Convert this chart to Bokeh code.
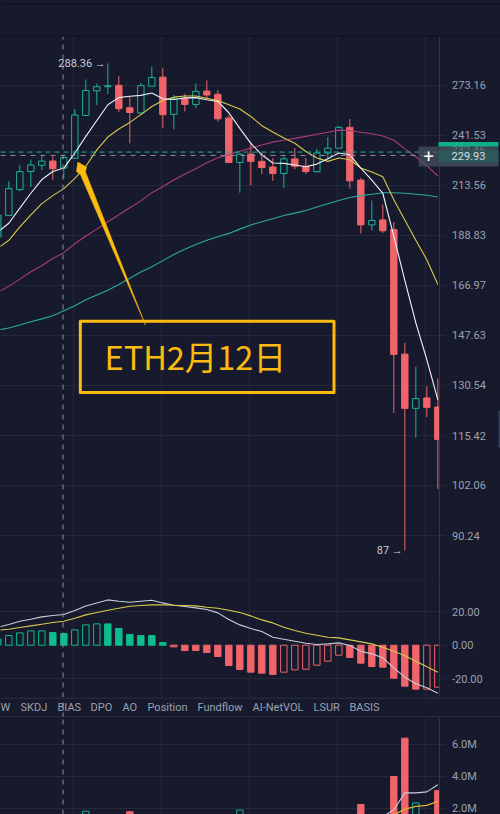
from bokeh.embed import file_html
from bokeh.resources import INLINE
from bokeh.plotting import figure
from bokeh.layouts import column
from bokeh.core.properties import value
from bokeh.models import (FixedTicker, PrintfTickFormatter, Range1d, BoxAnnotation, Label)

# ---------- data ----------
idx = list(range(-1, 40))
opens = [188.0,198.4,211.4,221.0,224.4,226.8,222.9,228.3,253.7,269.6,272.3,273.2,258.6,255.3,272.7,278.8,254.4,264.7,260.7,269.4,267.3,252.1,226.0,230.7,226.6,223.5,219.9,228.0,223.9,220.9,231.3,234.1,246.4,216.4,193.8,196.2,191.6,141.0,123.4,126.6,123.8]
highs = [201.2,215.8,224.7,227.5,230.3,229.4,229.4,257.8,277.2,274.4,288.36,279.5,266.2,274.8,286.0,285.3,266.8,267.5,274.4,276.6,270.0,254.2,231.3,237.8,231.3,228.5,229.4,234.1,228.5,233.7,240.6,247.2,251.5,217.5,205.8,203.7,195.2,145.0,136.7,130.3,132.8]
lows = [184.5,198.0,210.6,212.7,221.8,216.4,217.3,228.3,253.5,260.3,267.5,255.9,236.9,254.2,272.5,246.1,245.1,256.3,258.4,264.1,249.9,226.0,209.8,213.56,219.7,216.0,212.2,222.3,219.7,220.5,227.6,234.1,211.9,189.7,191.2,190.0,122.0,87.0,114.8,120.8,101.2]
closes = [198.7,211.9,221.0,224.6,226.8,222.5,228.7,254.0,269.8,272.3,273.0,258.0,255.6,273.0,278.6,254.2,264.7,260.7,269.2,266.8,251.6,226.0,230.7,226.6,223.2,219.9,228.0,223.9,221.0,231.3,234.1,246.4,216.0,193.8,195.9,191.0,140.9,123.4,126.4,123.7,114.3]
ma_white = [190.5,194.6,202.0,209.5,216.7,221.0,222.9,231.3,241.0,250.6,260.5,265.1,266.0,266.6,268.1,264.3,263.9,264.9,265.1,263.7,262.6,255.4,245.8,236.9,230.3,225.7,225.5,224.6,223.6,225.1,228.1,231.3,230.3,222.9,216.4,209.5,188.4,169.1,152.3,139.1,126.0]
ma_yellow = [183.0,186.6,192.9,198.7,204.2,208.3,211.9,217.3,223.9,233.1,240.6,245.4,249.4,254.2,259.4,263.2,265.4,266.2,266.2,264.7,263.2,260.5,257.8,253.1,247.4,243.6,240.0,236.9,232.2,228.5,226.6,228.5,227.5,222.9,220.7,218.2,206.2,196.2,186.6,177.9,167.4]
ma_pink = [164.3,166.6,169.6,172.7,175.3,178.4,181.0,185.0,188.6,191.8,195.3,198.7,202.2,205.6,209.8,213.0,216.4,219.7,222.5,225.8,228.7,230.3,232.3,234.1,235.9,237.6,238.7,239.8,241.0,242.2,243.4,244.7,244.4,243.4,242.5,241.2,238.7,233.7,229.2,224.2,218.6]
ma_teal = [149.6,150.4,151.5,152.7,153.8,155.0,156.9,158.8,161.2,163.1,165.0,167.4,170.0,172.6,174.8,177.5,180.2,182.5,184.7,186.6,188.2,189.8,191.8,193.8,195.3,196.8,198.3,199.5,200.8,202.5,204.2,205.8,207.3,208.3,209.0,209.8,209.8,209.5,209.0,208.5,207.6]
macd_hist = [3.8,5.8,7.4,8.6,8.6,7.6,7.0,9.2,12.2,12.8,12.8,10.0,6.4,5.8,5.8,1.6,-1.0,-3.2,-3.2,-4.4,-6.8,-12.2,-14.6,-16.2,-16.8,-17.6,-16.2,-14.8,-14.4,-12.0,-9.6,-6.0,-7.4,-10.8,-12.8,-13.2,-19.8,-24.6,-26.4,-26.4,-25.2]
macd_hollow = [0,1,1,1,1,0,0,1,1,1,0,0,0,0,0,0,0,0,0,0,0,0,0,0,0,0,1,1,1,1,1,1,0,0,0,0,0,0,0,1,1]
macd_dif = [10.8,12.4,14.4,15.6,17.0,17.8,18.4,20.8,23.6,25.4,27.2,26.4,25.8,26.4,27.0,25.4,24.0,23.2,22.4,21.4,19.4,15.4,12.2,10.0,8.2,4.8,3.6,2.4,1.2,0.4,0.8,1.4,-0.2,-3.6,-5.2,-7.6,-13.6,-19.2,-23.2,-25.6,-28.8]
macd_dea = [9.0,9.6,10.6,11.6,12.6,13.6,14.4,16.2,18.2,19.6,21.0,22.2,23.4,23.8,24.2,24.2,24.0,23.8,23.6,22.8,22.2,21.0,19.6,17.6,15.2,13.4,10.8,8.8,7.2,6.0,4.8,4.4,3.2,2.0,0.8,-1.2,-3.6,-6.4,-9.6,-13.0,-16.2]
volume = [1.0,1.2,0.9,0.8,0.7,0.6,0.8,1.5,1.83,1.0,1.2,1.3,1.8,1.1,0.9,1.4,1.0,0.7,0.8,0.6,0.9,1.5,1.9,1.0,0.7,0.6,0.8,0.6,0.5,0.8,0.7,1.1,1.5,2.25,0.8,0.9,4.0,6.4,2.35,1.3,3.12]
vol_ma1 = [1.1,1.1,1.0,1.0,0.9,0.9,0.8,0.9,1.1,1.2,1.2,1.3,1.4,1.4,1.3,1.2,1.1,1.1,1.0,0.9,0.9,1.0,1.1,1.2,1.1,1.0,0.9,0.8,0.7,0.7,0.7,0.8,0.9,1.2,1.2,1.5,1.92,2.98,2.98,3.04,3.48]
vol_ma2 = [1.0,1.0,1.0,1.0,1.0,1.0,0.9,0.9,1.0,1.0,1.0,1.1,1.1,1.2,1.2,1.2,1.2,1.2,1.1,1.1,1.1,1.1,1.1,1.1,1.1,1.1,1.0,1.0,1.0,0.9,0.9,0.9,1.0,1.0,1.1,1.2,1.6,1.96,2.13,2.19,2.44]
price_ticks = [273.16,241.53,213.56,188.83,166.97,147.63,130.54,115.42,102.06,90.24]
macd_ticks = [-20,0,20]
vol_ticks = [2,4,6]
time_ticks = [5.91,13.91,21.91,29.91,37.91]
tabs = ["W","SKDJ","BIAS","DPO","AO","Position","Fundflow","AI-NetVOL","LSUR","BASIS"]
last_price = 231.85
cross_price = 229.93
cross_x = 4.925

# ---------- layout / style ----------
tab_px = [0,20,57,90,122,147,197,252,313,349]
BG="#161a2c"; GRID="#242938"; AXIS="#30364a"; TXT="#9ca1af"
UP="#1cb394"; DOWN="#f0646a"; FILLUP="#0dbd8b"
RED=DOWN
CROSS="#8a8f9d"
FONT="Roboto"
X0,X1=-0.757,44.697
XAX=39.11   # plot/axis boundary

def base(h, yr, ticks, fmt, log=False, plot_top=None):
    kw={"y_axis_type":"log"} if log else {}
    p=figure(width=500,height=h,x_range=Range1d(X0,X1),y_range=yr,y_axis_location="right",
             x_axis_location=None,toolbar_location=None,output_backend="svg",
             min_border_left=0,min_border_right=0,min_border_top=0,min_border_bottom=0,**kw)
    p.background_fill_color=BG; p.border_fill_color=BG; p.outline_line_color=None
    p.xgrid.ticker=FixedTicker(ticks=time_ticks); p.ygrid.ticker=FixedTicker(ticks=ticks)
    p.xgrid.grid_line_color=GRID; p.ygrid.grid_line_color=GRID
    ax=p.yaxis[0]
    ax.fixed_location=XAX
    top=yr.end if plot_top is None else plot_top
    ax.bounds=(yr.start,top)
    ax.ticker=FixedTicker(ticks=ticks); ax.formatter=PrintfTickFormatter(format=fmt)
    ax.axis_line_color=AXIS; ax.major_tick_line_color=GRID; ax.major_tick_out=6; ax.major_tick_in=0
    ax.minor_tick_line_color=None; ax.major_label_text_color=TXT
    ax.major_label_text_font=FONT; ax.major_label_text_font_size="11px"; ax.major_label_standoff=7
    return p

def finish(p, yr, plot_top=None):
    """crosshair under the masks, then hide the grid outside the plot area"""
    top=yr.end if plot_top is None else plot_top
    p.line([cross_x,cross_x],[yr.start,top],line_color=CROSS,line_dash=[5,5],line_width=1)
    p.quad(left=[XAX],right=[X1+1],top=[yr.end],bottom=[yr.start],fill_color=BG,line_color=None)
    if plot_top is not None:
        p.quad(left=[X0-1],right=[X1+1],top=[yr.end],bottom=[plot_top],fill_color=BG,line_color=None)

# main price panel
PTOP=308.2
yr=Range1d(80.98,336.67)
p=base(579,yr,price_ticks,"%.2f",log=True,plot_top=PTOP)
cols=[UP if c>=o else RED for o,c in zip(opens,closes)]
p.segment(idx,highs,idx,lows,line_color=cols,line_width=1)
p.vbar(x=idx,width=0.58,top=[max(a,b) for a,b in zip(opens,closes)],bottom=[min(a,b) for a,b in zip(opens,closes)],
       fill_color=[BG if c>=o else RED for o,c in zip(opens,closes)],line_color=cols,line_width=1)
p.line(idx,ma_teal,line_color="#2aa9a3",line_width=1.1)
p.line(idx,ma_pink,line_color="#ad3a7e",line_width=1.1)
p.line(idx,ma_yellow,line_color="#d9c94b",line_width=1.1)
p.line(idx,ma_white,line_color="#eceef3",line_width=1.15)
p.line([X0,XAX],[last_price]*2,line_color=UP,line_dash=[5,4],line_width=1)
p.line([X0,XAX],[cross_price]*2,line_color=CROSS,line_dash=[5,5],line_width=1)
finish(p,yr,PTOP)
p.text([9,36],[288.36,87.0],text=["288.36 \u2192","87 \u2192"],text_align="right",text_baseline="middle",
       x_offset=-2,text_color="#c7cbd6",text_font=value(FONT),text_font_size="11px")

# hand-drawn annotation
ANN="#fdbb0f"
arrow_x=[12.42,6.97,7.06,6.27,6.15,6.52]
arrow_y=[151.5,220.8,223.5,226.2,221.0,219.2]
p.patch(arrow_x,arrow_y,fill_color=ANN,line_color=ANN,line_width=0.5)
p.quad(left=[6.5],right=[29.56],top=[152.85],bottom=[128.27],fill_color=None,line_color=ANN,line_width=3,line_join="round")
p.text([8.7],[140.45],text=["ETH2\u670812\u65e5"],text_color=ANN,text_font=value("Noto Sans CJK SC"),text_font_size="32.5px",
       text_baseline="alphabetic",text_align="left")

# chrome drawn on the canvas, in paint order
def cbox(l,r,t,b,c,a=1.0):
    p.add_layout(BoxAnnotation(left=l,right=r,top=t,bottom=b,left_units="canvas",right_units="canvas",
                               top_units="canvas",bottom_units="canvas",fill_color=c,fill_alpha=a,line_color=None,level="overlay"))
def clabel(x,y,text,color,size):
    p.add_layout(Label(x=x,y=y,x_units="canvas",y_units="canvas",text=text,text_align="center",text_baseline="middle",
                       text_color=color,text_font=FONT,text_font_size=size,level="overlay"))
cbox(0,500,2.5,3.5,"#0e111c")
cbox(0,500,35,36,"#0e111c")
cbox(498,500,410,447,"#3a4056")
cbox(418,438,146,166,"#4a4f5e",0.75)
cbox(438,498,146,166,"#3d4454")
clabel(468,149,"232.46","#5f7f80","11px")
cbox(438,498,150,162,"#2b5a5c",0.92)
cbox(438,498,141.5,146,"#10b086")
clabel(468,155.5,"229.93","#d9dde5","11px")
clabel(428,156,"+","#ffffff","18px")

# MACD panel
myr=Range1d(-31.41,39.46)
m=base(118,myr,macd_ticks,"%.2f")
mline=[FILLUP if v>=0 else RED for v in macd_hist]
mfill=[BG if h else c for h,c in zip(macd_hollow,mline)]
m.vbar(x=idx,width=0.58,top=[max(v,0) for v in macd_hist],bottom=[min(v,0) for v in macd_hist],fill_color=mfill,line_color=mline,line_width=1)
m.line(idx,macd_dif,line_color="#c9ccd8",line_width=1.1)
m.line(idx,macd_dea,line_color="#d9c94b",line_width=1.1)
m.line([X0,XAX],[39.2,39.2],line_color=GRID,line_width=1)
finish(m,myr)

# indicator tab strip
s=figure(width=500,height=20,x_range=Range1d(0,500),y_range=Range1d(0,20),x_axis_location=None,y_axis_location=None,
         toolbar_location=None,output_backend="svg",min_border=0)
s.background_fill_color=BG; s.border_fill_color=BG; s.outline_line_color=None
s.xgrid.visible=False; s.ygrid.visible=False
s.line([0,500],[19.5,19.5],line_color=AXIS,line_width=1)
s.line([0,500],[0.5,0.5],line_color=AXIS,line_width=1)
s.line([62.5,62.5],[0,20],line_color=CROSS,line_dash=[5,5],line_width=1)
s.text(tab_px,[10.5]*len(tabs),text=tabs,text_align="left",text_baseline="middle",text_color=TXT,text_font=value(FONT),text_font_size="11px")

# volume panel
vyr=Range1d(1.625,7.69)
v=base(97,vyr,vol_ticks,"%.1fM")
vup=[c>=o for o,c in zip(opens,closes)]
v.vbar(x=idx,width=0.58,top=volume,bottom=[0]*len(volume),fill_color=[BG if u else RED for u in vup],
       line_color=[UP if u else RED for u in vup],line_width=1)
v.line(idx,vol_ma1,line_color="#c9ccd8",line_width=1.1)
v.line(idx,vol_ma2,line_color="#e0b52e",line_width=1.3)
finish(v,vyr)

page=column(p,m,s,v,spacing=0,styles={"background-color":BG})
open("out.html","w").write(file_html(page,INLINE))
